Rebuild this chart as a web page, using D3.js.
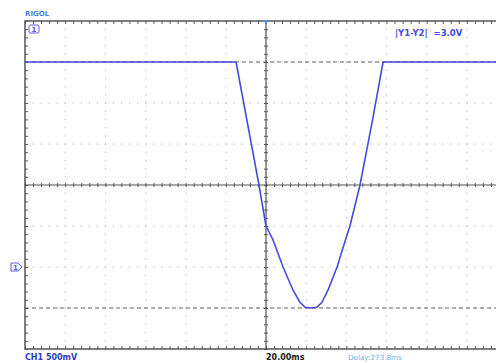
<!DOCTYPE html>
<html>
<head>
<meta charset="utf-8">
<script src="https://cdn.jsdelivr.net/npm/d3@7"></script>
<style>
  body { margin: 0; background: #fff; }
  svg { display: block; font-family: "DejaVu Sans", sans-serif; }
  .axis path { display: none; }
  .axis line { stroke: #555; }
</style>
</head>
<body>
<script>
// time in ms relative to screen centre, voltage in V (CH1, 500mV/div)
const timeMs = [-120, -14.9, -3.5, 0, 3.5, 8.5, 13.4, 16.9, 19.4, 22.4, 25.4, 27.9, 30.9, 35.4, 38.8, 41.8, 46.8, 52.8, 58.3, 120]
const volts  = [2.5, 2.5, 1.0, 0.5, 0.33, 0.0, -0.28, -0.43, -0.49, -0.5, -0.49, -0.43, -0.28, 0.0, 0.27, 0.5, 1.0, 1.76, 2.5, 2.5]
const cursorVolts = [2.5, -0.5]
const timeTicks = d3.range(-120, 121, 20)
const voltTicks = d3.range(-1, 3.01, 0.5)

const W = 496, H = 363
const scrLeft = 25, scrRight = 507, scrTop = 21, scrBottom = 349

const x = d3.scaleLinear().domain([-120, 120]).range([scrLeft, scrRight])
const y = d3.scaleLinear().domain([-1, 3]).range([scrBottom, scrTop])

const svg = d3.select('body').append('svg')
    .attr('width', W)
    .attr('height', H)

// dotted graticule
const grid = svg.append('g').attr('fill', '#c2c2c2')
timeTicks.filter(t => t !== 0 && t > -120).forEach(t => {
  d3.range(-1, 3.001, 0.1).forEach(v => {
    grid.append('rect').attr('x', x(t) - 0.5).attr('y', y(v) - 0.5).attr('width', 1.2).attr('height', 1.2)
  })
})
voltTicks.filter(v => v !== 1 && v > -1 && v < 3).forEach(v => {
  d3.range(-120, 120.01, 4).forEach(t => {
    grid.append('rect').attr('x', x(t) - 0.5).attr('y', y(v) - 0.5).attr('width', 1.2).attr('height', 1.2)
  })
})

// cursor lines
svg.selectAll('.cursor')
    .data(cursorVolts)
  .enter().append('line')
    .attr('class', 'cursor')
    .attr('x1', scrLeft).attr('x2', W)
    .attr('y1', v => y(v)).attr('y2', v => y(v))
    .attr('stroke', '#666')
    .attr('stroke-width', 1.2)
    .attr('stroke-dasharray', '4,3')

// centre axes with minor ticks
const minorT = d3.range(-120, 120.01, 4)
const minorV = d3.range(-1, 3.001, 0.1)
svg.append('line').attr('x1', scrLeft).attr('x2', W).attr('y1', y(1)).attr('y2', y(1)).attr('stroke', '#555').attr('stroke-width', 1.2)
svg.append('line').attr('x1', x(0)).attr('x2', x(0)).attr('y1', scrTop).attr('y2', scrBottom).attr('stroke', '#555').attr('stroke-width', 1.2)
svg.append('g').attr('class', 'axis').attr('transform', `translate(0,${y(1)})`)
    .call(d3.axisBottom(x).tickValues(minorT).tickSize(2).tickFormat(''))
svg.append('g').attr('class', 'axis').attr('transform', `translate(0,${y(1)})`)
    .call(d3.axisTop(x).tickValues(minorT).tickSize(2).tickFormat(''))
svg.append('g').attr('class', 'axis').attr('transform', `translate(${x(0)},0)`)
    .call(d3.axisLeft(y).tickValues(minorV).tickSize(2).tickFormat(''))
svg.append('g').attr('class', 'axis').attr('transform', `translate(${x(0)},0)`)
    .call(d3.axisRight(y).tickValues(minorV).tickSize(2).tickFormat(''))

// frame with ticks
svg.append('path')
    .attr('d', `M${W},${scrTop}H${scrLeft}V${scrBottom}H${W}`)
    .attr('fill', 'none').attr('stroke', '#555').attr('stroke-width', 1.5)
svg.append('g').attr('class', 'axis').attr('transform', `translate(0,${scrTop})`)
    .call(d3.axisBottom(x).tickValues(minorT).tickSize(3).tickFormat(''))
svg.append('g').attr('class', 'axis').attr('transform', `translate(0,${scrBottom})`)
    .call(d3.axisTop(x).tickValues(minorT).tickSize(3).tickFormat(''))
svg.append('g').attr('class', 'axis').attr('transform', `translate(${scrLeft},0)`)
    .call(d3.axisRight(y).tickValues(minorV).tickSize(3).tickFormat(''))

// trace
const data = timeMs.map((t, i) => ({ t, v: volts[i] }))
svg.append('path')
    .datum(data)
    .attr('fill', 'none')
    .attr('stroke', '#4a4ae0')
    .attr('stroke-width', 1.6)
    .attr('stroke-linejoin', 'round')
    .attr('d', d3.line().x(d => x(d.t)).y(d => y(d.v)))

// trigger marker
svg.append('path')
    .attr('d', `M${x(0) - 3},${scrTop - 1}L${x(0) + 3},${scrTop - 1}L${x(0)},${scrTop + 3}Z`)
    .attr('fill', '#5b8fd8')

// channel markers
svg.append('rect').attr('x', 29).attr('y', 25).attr('width', 10).attr('height', 8).attr('rx', 1.5)
    .attr('fill', 'none').attr('stroke', '#5a5ae8').attr('stroke-width', 1)
svg.append('text').attr('x', 34).attr('y', 32).attr('text-anchor', 'middle')
    .attr('font-size', 7).attr('font-weight', 'bold').attr('fill', '#5a5ae8').text('1')
const gy = y(0)
svg.append('path')
    .attr('d', `M11,${gy - 4}H18L22,${gy}L18,${gy + 4}H11Z`)
    .attr('fill', 'none').attr('stroke', '#5a5ae8').attr('stroke-width', 1)
svg.append('text').attr('x', 15.5).attr('y', gy + 3).attr('text-anchor', 'middle')
    .attr('font-size', 7).attr('font-weight', 'bold').attr('fill', '#5a5ae8').text('1')

// labels
svg.append('text').attr('x', 25).attr('y', 16)
    .attr('font-size', 7).attr('font-weight', 'bold').attr('fill', '#4a7fd8').text('RIGOL')
svg.append('text').attr('x', 395).attr('y', 36)
    .attr('font-size', 8.5).attr('font-weight', 'bold').attr('fill', '#4a4ae0')
    .attr('xml:space', 'preserve').text('|Y1-Y2|  =3.0V')
svg.append('text').attr('x', 25).attr('y', 360)
    .attr('font-size', 8).attr('font-weight', 'bold').attr('fill', '#2c3cc0').text('CH1 500mV')
svg.append('text').attr('x', 266).attr('y', 360)
    .attr('font-size', 8).attr('font-weight', 'bold').attr('fill', '#222').text('20.00ms')
svg.append('text').attr('x', 348).attr('y', 360)
    .attr('font-size', 7.2).attr('fill', '#6aaee8').text('Delay:273.8ms')
</script>
</body>
</html>
